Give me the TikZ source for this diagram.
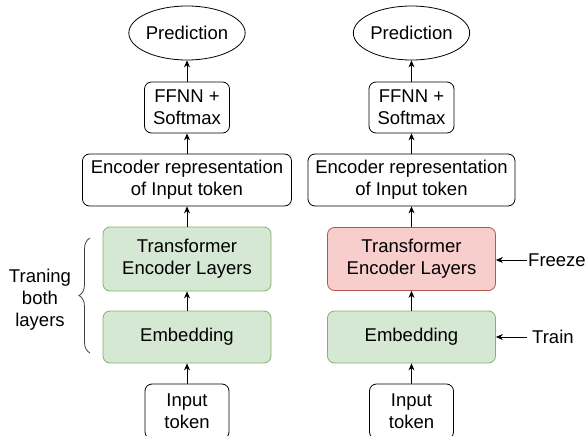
\documentclass[tikz,border=0pt]{standalone}
\usepackage{fontspec}
\setmainfont{Liberation Sans}
\usetikzlibrary{shapes.geometric,arrows.meta,decorations.pathreplacing}
\definecolor{gfill}{HTML}{D5E8D4}
\definecolor{gline}{HTML}{82B366}
\definecolor{rfill}{HTML}{F8CECC}
\definecolor{rline}{HTML}{B85450}
\tikzset{
  every node/.style={font=\fontsize{18.5}{22}\selectfont},
  box/.style={draw=black, line width=0.8pt, rounded corners=7pt, align=center, inner sep=0pt, fill=white},
  greenbox/.style={box, draw=gline, fill=gfill},
  redbox/.style={box, draw=rline, fill=rfill},
  predict/.style={draw=black, line width=0.8pt, ellipse, inner sep=0pt, minimum width=95pt, minimum height=54pt},
  arr/.style={line width=0.8pt, -{Stealth[length=7pt,width=6pt]}},
  lbl/.style={align=center, inner sep=1pt}
}
\begin{document}
\begin{tikzpicture}[x=1pt,y=-1pt]
\useasboundingbox (0,0) rectangle (587,436);
% left column
\node[predict] (predL) at (187,33) {Prediction};
\node[box, minimum width=85pt, minimum height=51pt] (ffL) at (187,107.5) {FFNN +\\Softmax};
\node[box, minimum width=209pt, minimum height=52pt] (encL) at (187,180) {Encoder representation\\of Input token};
\node[greenbox, minimum width=168pt, minimum height=64pt] (trL) at (187,259) {Transformer\\Encoder Layers};
\node[greenbox, minimum width=168pt, minimum height=52pt] (emL) at (187,337) {Embedding};
\node[box, minimum width=84pt, minimum height=55pt] (inL) at (187,411.5) {Input\\token};
\draw[arr] (inL) -- (emL);
\draw[arr] (emL) -- (trL);
\draw[arr] (trL) -- (encL);
\draw[arr] (encL) -- (ffL);
\draw[arr] (ffL) -- (predL);
\coordinate (brB) at (90,353);
\coordinate (brT) at (90,238);
\draw[line width=0.8pt, black!75, decorate, decoration={brace, amplitude=11pt}] (brB) -- (brT);
\node[lbl] (trainboth) at (40,300) {Traning\\both\\layers};
% right column
\node[predict] (predR) at (411.5,33) {Prediction};
\node[box, minimum width=85pt, minimum height=51pt] (ffR) at (411.5,107.5) {FFNN +\\Softmax};
\node[box, minimum width=207pt, minimum height=52pt] (encR) at (411.5,180) {Encoder representation\\of Input token};
\node[redbox, minimum width=168pt, minimum height=63pt] (trR) at (411.5,259) {Transformer\\Encoder Layers};
\node[greenbox, minimum width=168pt, minimum height=52pt] (emR) at (411.5,337) {Embedding};
\node[box, minimum width=84pt, minimum height=55pt] (inR) at (411.5,411.5) {Input\\token};
\draw[arr] (inR) -- (emR);
\draw[arr] (emR) -- (trR);
\draw[arr] (trR) -- (encR);
\draw[arr] (encR) -- (ffR);
\draw[arr] (ffR) -- (predR);
\node[lbl, anchor=west] (frz) at (527,260) {Freeze};
\node[lbl, anchor=west] (trn) at (531,337) {Train};
\draw[arr] (frz.west) -- (trR.east |- frz.west);
\draw[arr] ([xshift=-4pt]trn.west) -- (emR.east |- trn.west);
\end{tikzpicture}
\end{document}
